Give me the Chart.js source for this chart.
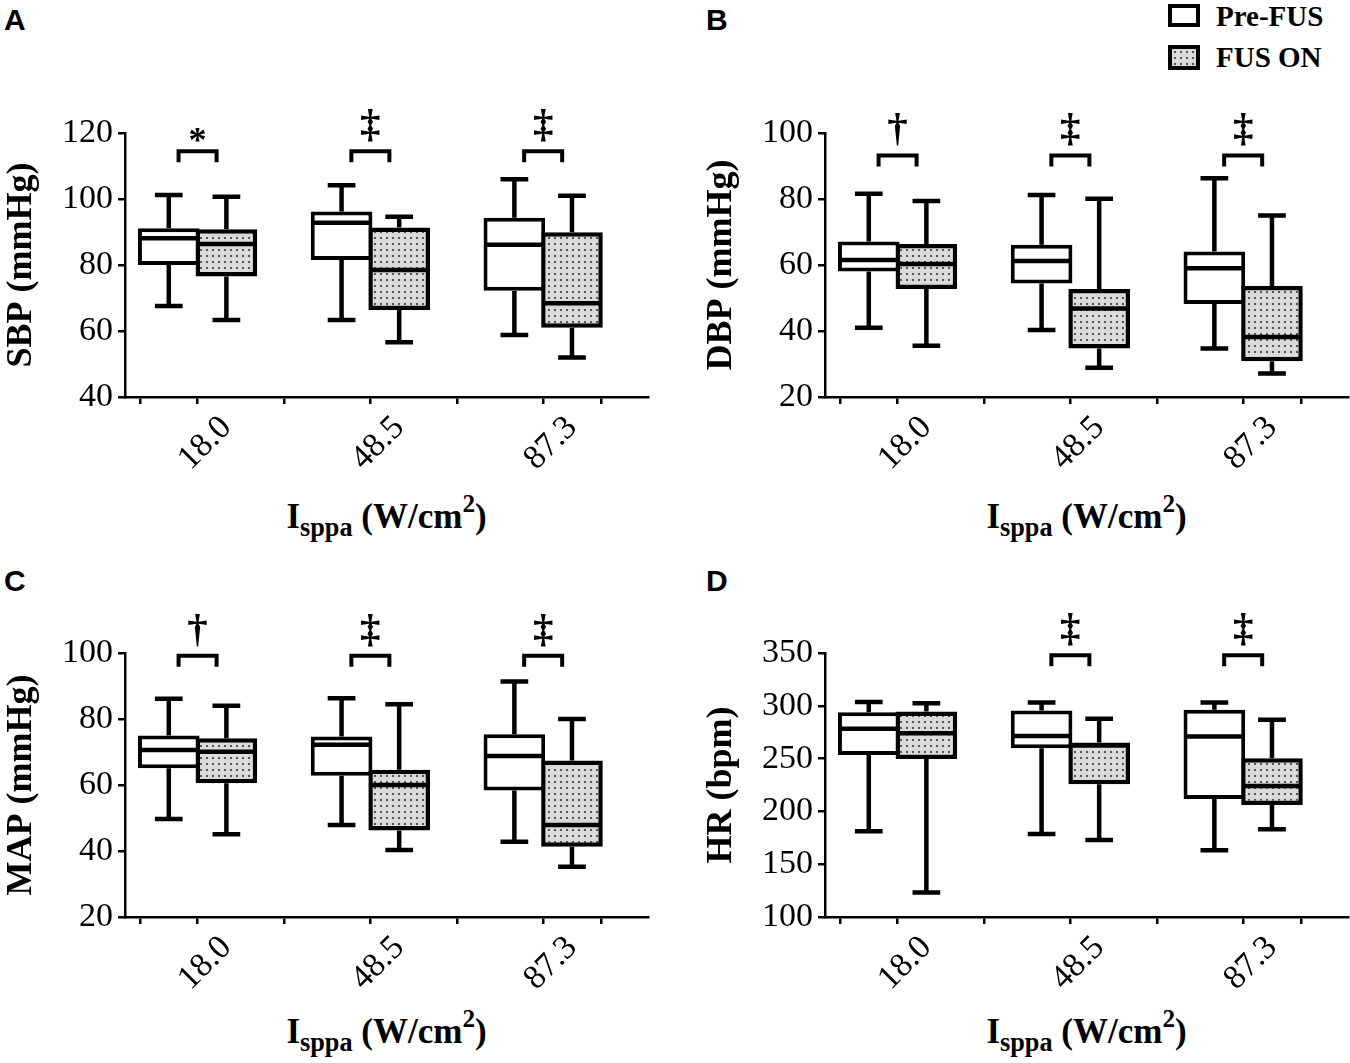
<!DOCTYPE html>
<html>
<head>
<meta charset="utf-8">
<script src="https://cdn.jsdelivr.net/npm/chart.js@4.4.1/dist/chart.umd.min.js"></script>
<style>
  body { margin: 0; background: #fff; width: 1350px; height: 1063px; position: relative; overflow: hidden; }
  canvas { position: absolute; }
  .letter { position: absolute; font: bold 30px 'Liberation Sans', Arial, sans-serif; line-height: 30px; color: #000; }
  .xtitle { position: absolute; width: 523px; text-align: center; font: bold 35px 'Liberation Serif', 'Times New Roman', serif; line-height: 35px; color: #000; white-space: nowrap; }
  .xtitle sub { font-size: 0.75em; vertical-align: -0.3em; line-height: 0; }
  .xtitle sup { font-size: 0.72em; vertical-align: 0.62em; line-height: 0; }
  .sw { position: absolute; box-sizing: border-box; border: 4px solid #000; width: 32px; }
  .sw.pre { background: #fff; }
  .sw.fus { background: radial-gradient(circle, #555 0.9px, transparent 1.3px) 0 0 / 6px 6px, #dadada; }
  .lgtxt { position: absolute; font: bold 29px 'Liberation Serif', 'Times New Roman', serif; line-height: 29px; color: #000; }
</style>
</head>
<body>
<div class="letter" style="left:4px; top:5px">A</div>
<div class="letter" style="left:706px; top:5px">B</div>
<div class="letter" style="left:4px; top:566px">C</div>
<div class="letter" style="left:706px; top:566px">D</div>

<div class="sw pre" style="left:1168px; top:4px; height:23px"></div>
<div class="lgtxt" style="left:1216px; top:2px">Pre-FUS</div>
<div class="sw fus" style="left:1168px; top:45px; height:25px"></div>
<div class="lgtxt" style="left:1216px; top:43px">FUS ON</div>

<canvas id="sbp" width="675" height="410" style="left:0px; top:73px"></canvas>
<canvas id="dbp" width="675" height="410" style="left:700px; top:73px"></canvas>
<canvas id="map" width="675" height="410" style="left:0px; top:593px"></canvas>
<canvas id="hr" width="675" height="410" style="left:700px; top:593px"></canvas>

<div class="xtitle" style="left:125px; top:499px">I<sub>sppa</sub> (W/cm<sup>2</sup>)</div>
<div class="xtitle" style="left:825px; top:499px">I<sub>sppa</sub> (W/cm<sup>2</sup>)</div>
<div class="xtitle" style="left:125px; top:1014px">I<sub>sppa</sub> (W/cm<sup>2</sup>)</div>
<div class="xtitle" style="left:825px; top:1014px">I<sub>sppa</sub> (W/cm<sup>2</sup>)</div>

<script>
// intensity groups on the x axis
const groups = ['18.0', '48.5', '87.3'];

// each row: [min, Q1, median, Q3, max] for one intensity group
const sbpPre = [[67.6, 80.0, 88.1, 91.1, 101.2], [63.3, 81.5, 92.8, 96.2, 104.2], [58.8, 72.2, 86.1, 94.3, 106.0]];
const sbpFus = [[63.3, 76.5, 86.4, 90.8, 100.7], [56.6, 66.4, 78.5, 91.4, 94.6], [52.0, 61.0, 68.4, 89.9, 101.0]];
const dbpPre = [[41.0, 58.0, 61.5, 67.1, 81.6], [40.3, 54.4, 61.2, 66.1, 81.2], [34.7, 48.2, 59.0, 64.1, 86.3]];
const dbpFus = [[35.5, 52.7, 60.3, 66.4, 79.4], [28.9, 34.7, 46.8, 52.7, 80.1], [27.1, 30.8, 38.2, 53.6, 75.0]];
const mapPre = [[49.7, 65.1, 70.6, 75.0, 86.1], [47.9, 62.8, 72.2, 74.7, 86.3], [42.8, 58.3, 68.8, 75.4, 91.4]];
const mapFus = [[45.1, 60.5, 70.1, 74.2, 84.0], [40.3, 46.2, 60.0, 64.6, 84.5], [35.2, 41.3, 47.9, 67.4, 80.0]];
const hrPre = [[181.3, 253.5, 278.2, 294.0, 303.5], [178.5, 259.8, 271.5, 295.6, 303.2], [163.3, 211.7, 270.9, 296.2, 303.2]];
const hrFus = [[123.1, 249.7, 274.1, 294.6, 302.5], [172.8, 225.6, 262.3, 265.2, 287.7], [183.2, 206.0, 224.1, 250.3, 286.7]];

// significance marks per group (Pre-FUS vs FUS ON)
const sbpSig = ['*', '‡', '‡'];
const dbpSig = ['†', '‡', '‡'];
const mapSig = ['†', '‡', '‡'];
const hrSig = ['', '‡', '‡'];

const serif = "'Liberation Serif', 'Times New Roman', serif";
const slots = groups.flatMap((g, i) => [i * 3, i * 3 + 1]);

function dotPattern() {
    const c = document.createElement('canvas');
    c.width = 6; c.height = 6;
    const g = c.getContext('2d');
    g.fillStyle = '#dadada';
    g.fillRect(0, 0, 6, 6);
    g.fillStyle = '#555';
    g.fillRect(2, 2, 2, 2);
    return g.createPattern(c, 'repeat');
}

// whiskers, caps and median line on top of the floating bars
const boxPlugin = {
    id: 'whiskers',
    afterDatasetsDraw(chart) {
        const ctx = chart.ctx;
        const y = chart.scales.y;
        ctx.save();
        ctx.strokeStyle = '#000';
        ctx.lineWidth = 4.5;
        chart.data.datasets.forEach((ds, di) => {
            chart.getDatasetMeta(di).data.forEach((bar, i) => {
                const [lo, q1, med, q3, hi] = ds.stats[i];
                const x = bar.x, half = bar.width / 2, cap = bar.width * 0.225;
                ctx.beginPath();
                ctx.moveTo(x, y.getPixelForValue(q3)); ctx.lineTo(x, y.getPixelForValue(hi));
                ctx.moveTo(x - cap, y.getPixelForValue(hi)); ctx.lineTo(x + cap, y.getPixelForValue(hi));
                ctx.moveTo(x, y.getPixelForValue(q1)); ctx.lineTo(x, y.getPixelForValue(lo));
                ctx.moveTo(x - cap, y.getPixelForValue(lo)); ctx.lineTo(x + cap, y.getPixelForValue(lo));
                ctx.moveTo(x - half + 2, y.getPixelForValue(med)); ctx.lineTo(x + half - 2, y.getPixelForValue(med));
                ctx.stroke();
            });
        });
        ctx.restore();
    }
};

// bracket + symbol above each pair
function bracketPlugin(marks, level) {
    return {
        id: 'brackets',
        afterDatasetsDraw(chart) {
            const ctx = chart.ctx;
            const xs = chart.scales.x, ys = chart.scales.y;
            const yb = ys.getPixelForValue(level);
            ctx.save();
            ctx.strokeStyle = '#000';
            ctx.fillStyle = '#000';
            ctx.lineWidth = 4;
            ctx.lineJoin = 'miter';
            ctx.textAlign = 'center';
            marks.forEach((m, g) => {
                if (!m) return;
                const x0 = xs.getPixelForValue(g * 3 + 0.17);
                const x1 = xs.getPixelForValue(g * 3 + 0.83);
                ctx.beginPath();
                ctx.moveTo(x0, yb + 11); ctx.lineTo(x0, yb); ctx.lineTo(x1, yb); ctx.lineTo(x1, yb + 11);
                ctx.stroke();
                ctx.font = (m === '*' ? 'bold 36px ' : 'bold 41px ') + serif;
                const d = ctx.measureText(m).actualBoundingBoxDescent;
                ctx.fillText(m, (x0 + x1) / 2, yb - 9 - d);
            });
            ctx.restore();
        }
    };
}

function makePanel(id, yTitle, pre, fus, yMin, yMax, step, marks, level) {
    const axisGrid = { display: true, drawOnChartArea: false, drawTicks: true, tickLength: 7, color: '#000', lineWidth: 2.5 };
    const axisBorder = { display: true, color: '#000', width: 2.5 };
    new Chart(document.getElementById(id), {
        type: 'bar',
        data: {
            datasets: [
                {
                    label: 'Pre-FUS',
                    data: pre.map((s, g) => ({ x: g * 3, y: [s[1], s[3]] })),
                    stats: pre,
                    backgroundColor: '#fff',
                    borderColor: '#000',
                    borderWidth: 4
                },
                {
                    label: 'FUS ON',
                    data: fus.map((s, g) => ({ x: g * 3 + 1, y: [s[1], s[3]] })),
                    stats: fus,
                    backgroundColor: dotPattern(),
                    borderColor: '#000',
                    borderWidth: 4.5
                }
            ]
        },
        options: {
            responsive: false,
            animation: false,
            events: [],
            layout: { padding: { top: 60, right: 27, left: 0, bottom: 0 } },
            datasets: { bar: { grouped: false, barPercentage: 1.07, categoryPercentage: 1, borderSkipped: false } },
            plugins: { legend: { display: false }, tooltip: { enabled: false } },
            scales: {
                x: {
                    type: 'linear',
                    min: -0.76,
                    max: 8.32,
                    offset: false,
                    afterBuildTicks: s => { s.ticks = slots.map(v => ({ value: v })); },
                    afterFit: s => { s.height = 86; },
                    ticks: {
                        autoSkip: false,
                        minRotation: 45,
                        maxRotation: 45,
                        padding: 4,
                        color: '#000',
                        font: { family: serif, size: 34 },
                        callback: v => (v % 3 === 1 ? groups[(v - 1) / 3] : '')
                    },
                    grid: axisGrid,
                    border: axisBorder
                },
                y: {
                    min: yMin,
                    max: yMax,
                    afterFit: s => { s.width = 125; },
                    ticks: { stepSize: step, padding: 5, color: '#000', font: { family: serif, size: 34 } },
                    grid: axisGrid,
                    border: axisBorder,
                    title: { display: true, text: yTitle, color: '#000', padding: 0, font: { family: serif, size: 36, weight: 'bold' } }
                }
            }
        },
        plugins: [boxPlugin, bracketPlugin(marks, level)]
    });
}

makePanel('sbp', 'SBP (mmHg)', sbpPre, sbpFus, 40, 120, 20, sbpSig, 114.5);
makePanel('dbp', 'DBP (mmHg)', dbpPre, dbpFus, 20, 100, 20, dbpSig, 93.2);
makePanel('map', 'MAP (mmHg)', mapPre, mapFus, 20, 100, 20, mapSig, 99.2);
makePanel('hr', 'HR (bpm)', hrPre, hrFus, 100, 350, 50, hrSig, 347.8);
</script>
</body>
</html>
